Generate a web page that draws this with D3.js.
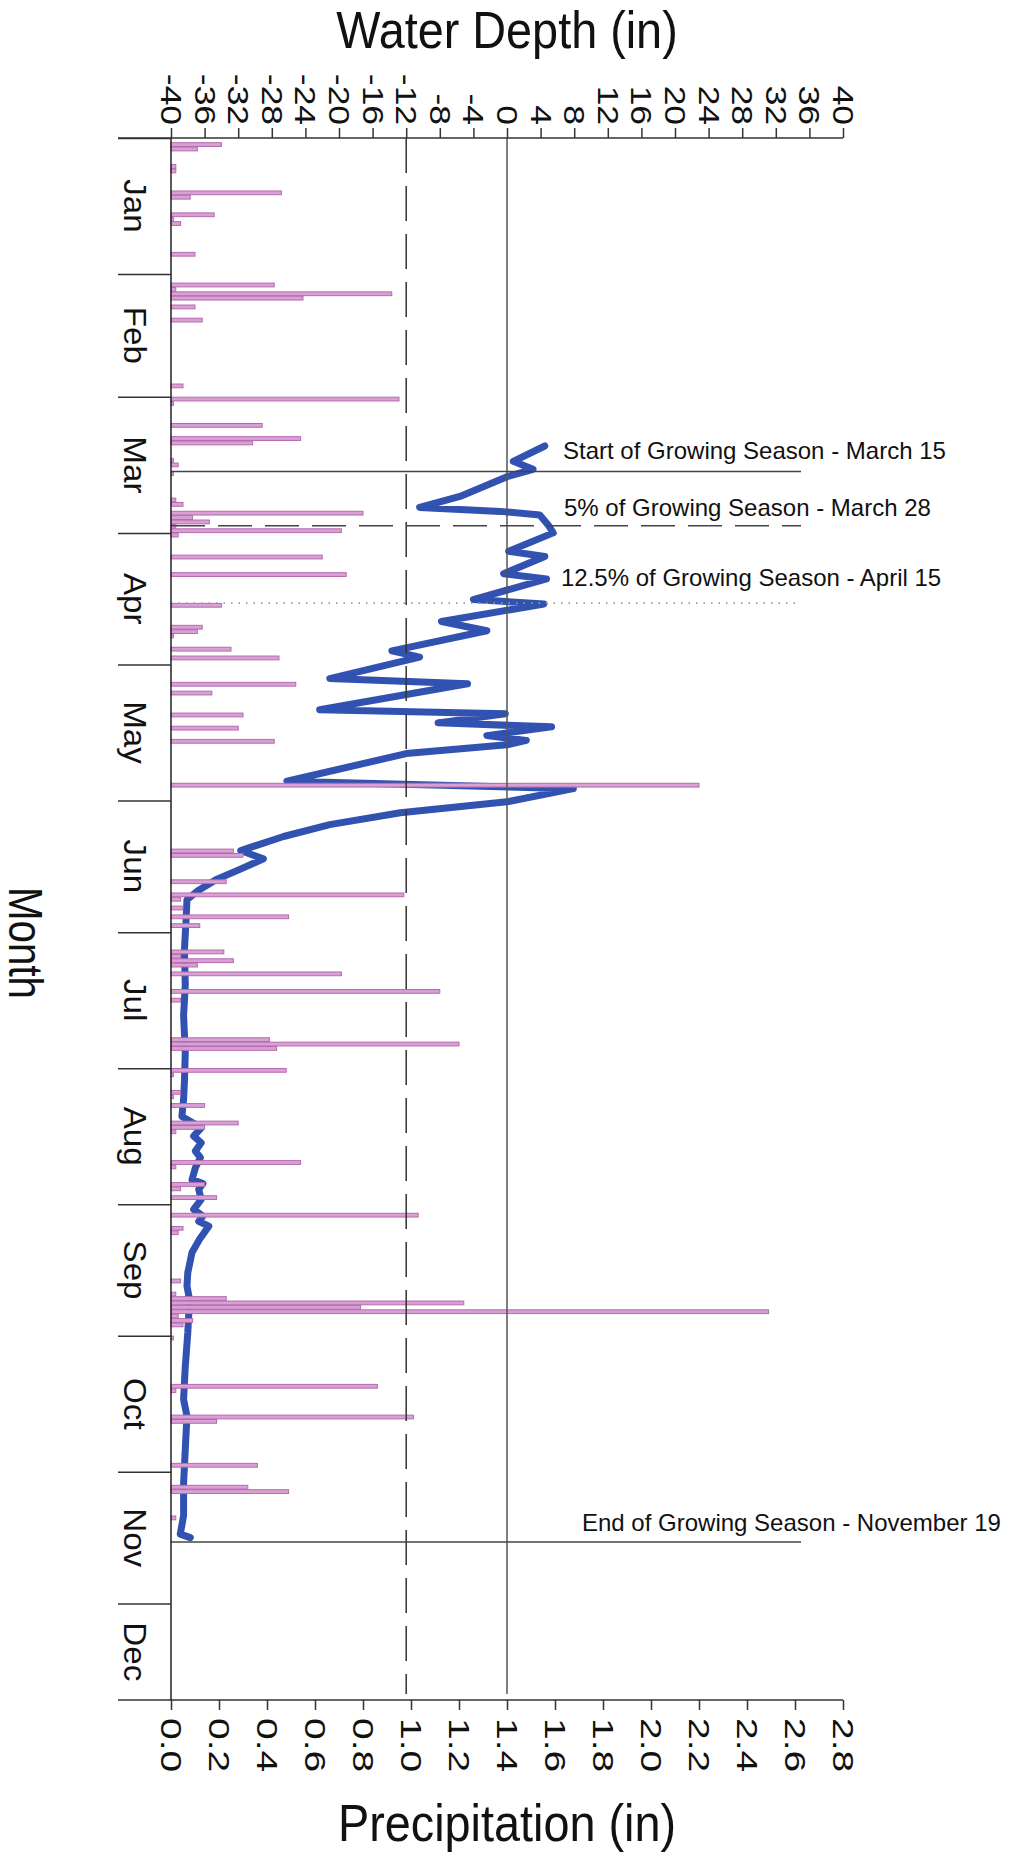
<!DOCTYPE html>
<html>
<head>
<meta charset="utf-8">
<script src="https://cdn.jsdelivr.net/npm/d3@7"></script>
<style>
  body { margin: 0; background: #fff; }
  svg { display: block; font-family: "Liberation Sans", Arial, sans-serif; }
</style>
</head>
<body>
<svg id="chart" width="1013" height="1870"></svg>
<script>
// months (day-of-year where each month starts)
const months = ['Jan', 'Feb', 'Mar', 'Apr', 'May', 'Jun', 'Jul', 'Aug', 'Sep', 'Oct', 'Nov', 'Dec'];
const monthStartDays = [0, 31, 59, 90, 120, 151, 181, 212, 243, 273, 304, 334];
const lastDay = 356; // the day axis stops a little before the end of December

const depthTicks = [-40, -36, -32, -28, -24, -20, -16, -12, -8, -4, 0, 4, 8, 12, 16, 20, 24, 28, 32, 36, 40];
const precipTicks = [0, 0.2, 0.4, 0.6, 0.8, 1.0, 1.2, 1.4, 1.6, 1.8, 2.0, 2.2, 2.4, 2.6, 2.8];

// daily precipitation (day of year, inches)
const precipDays = [1, 2, 6, 7, 12, 13, 17, 18, 19, 26, 33, 34, 35, 36, 38, 41, 56, 59, 60,
  65, 68, 69, 73, 74, 76, 82, 83, 85, 86, 87, 88, 89, 90, 95, 99, 106, 111, 112, 113, 116, 118,
  124, 126, 131, 134, 137, 147, 162, 163, 169, 172, 173, 175, 177, 179, 185, 186, 187, 188, 190,
  194, 196, 205, 206, 207, 212, 213, 217, 218, 220, 224, 225, 226, 233, 234, 238, 239, 241, 245,
  248, 249, 260, 263, 264, 265, 266, 267, 268, 269, 270, 273, 284, 285, 291, 292, 302, 307, 308, 314];
const precipInches = [0.21, 0.11, 0.02, 0.02, 0.46, 0.08, 0.18, 0.01, 0.04, 0.10, 0.43, 0.02, 0.92, 0.55, 0.10, 0.13, 0.05, 0.95, 0.01,
  0.38, 0.54, 0.34, 0.01, 0.03, 0.01, 0.02, 0.05, 0.80, 0.09, 0.16, 0.02, 0.71, 0.03, 0.63, 0.73, 0.21, 0.13, 0.11, 0.01, 0.25, 0.45,
  0.52, 0.17, 0.30, 0.28, 0.43, 2.20, 0.26, 0.30, 0.23, 0.97, 0.04, 0.05, 0.49, 0.12, 0.22, 0.04, 0.26, 0.11, 0.71,
  1.12, 0.04, 0.41, 1.20, 0.44, 0.48, 0.01, 0.04, 0.01, 0.14, 0.28, 0.14, 0.02, 0.54, 0.02, 0.14, 0.04, 0.19, 1.03,
  0.05, 0.03, 0.04, 0.02, 0.23, 1.22, 0.79, 2.49, 0.03, 0.09, 0.05, 0.01, 0.86, 0.02, 1.01, 0.19, 0.36, 0.32, 0.49, 0.02];

// water depth trace (day of year, inches)
const depthDays = [70.2, 73.7, 75.5, 77.2, 81.7, 84.2, 85.1, 85.9, 88.2, 90.0, 94.2, 95.4, 99.3, 100.5,
  105.2, 106.2, 110.2, 112.3, 116.9, 118.3, 123.2, 124.4, 130.3, 131.2, 133.3, 134.2, 136.2, 137.3,
  138.3, 140.3, 146.6, 148.3, 151.3, 153.8, 156.5, 159.2, 162.4, 164.3, 166.7, 169.0, 171.7, 173.6,
  178, 185, 193, 200, 208.5, 215, 219, 223, 225.6, 227.5, 229, 230.9, 232.4, 234.7, 237.4, 238.3,
  239.6, 241.9, 244.2, 245.7, 246.9, 248, 251, 254, 258.6, 261.6, 264.7, 272.3, 280, 287.5, 291.3,
  298.9, 306.5, 314, 318.2, 319];
const depthInches = [4.5, 0.75, 3.1, 0.0, -5.6, -10.4, -0.8, 3.9, 4.9, 5.5, 0.2, 4.5, -0.4, 4.7,
  -4.0, 4.4, -7.8, -2.4, -13.7, -10.4, -21.1, -4.7, -22.3, -0.2, -8.2, 5.3, -2.4, 2.3,
  0.0, -12.0, -26.2, 7.9, 0.0, -12.7, -21.1, -26.6, -31.7, -29.0, -31.8, -34.6, -36.9, -38.1,
  -38.2, -38.4, -38.3, -38.5, -38.3, -38.4, -38.5, -38.7, -36.4, -37.3, -36.4, -37.1, -36.5, -37.1, -37.5, -36.2,
  -36.7, -36.4, -37.3, -36.2, -36.7, -35.5, -36.6, -37.5, -38.0, -38.1, -37.8, -38.0, -38.3, -38.5, -38.1,
  -38.3, -38.5, -38.5, -38.9, -37.7];

// growing season markers
const seasonDays = [76, 88.4, 106, 320];
const seasonLabels = [
  'Start of Growing Season - March 15',
  '5% of Growing Season - March 28',
  '12.5% of Growing Season - April 15',
  'End of Growing Season - November 19'
];
const seasonStyles = ['solid', 'dashed', 'dotted', 'solid'];
const seasonLabelX = [563, 564, 561, 582];
const seasonLabelLift = [12, 10, 17, 11];
const seasonLineEnd = 35; // in water depth units

const svg = d3.select('#chart');

const plot = { left: 171, right: 843, top: 138, bottom: 1700, tickLeft: 118 };

const depthX = d3.scaleLinear().domain([-40, 40]).range([plot.left, plot.right]);
const precipX = d3.scaleLinear().domain([0, 2.8]).range([plot.left, plot.right]);
const dayY = d3.scaleLinear().domain([0, lastDay]).range([plot.top, plot.bottom]);

// Water depth line (under the bars)
const line = d3.line()
  .x(i => depthX(depthInches[i]))
  .y(i => dayY(depthDays[i]));

svg.append('path')
  .attr('d', line(d3.range(depthDays.length)))
  .attr('fill', 'none')
  .attr('stroke', '#3152b0')
  .attr('stroke-width', 7)
  .attr('stroke-linejoin', 'round')
  .attr('stroke-linecap', 'round');

// Precipitation bars
svg.append('g')
  .selectAll('rect')
  .data(precipDays)
  .enter()
  .append('rect')
  .attr('x', precipX(0))
  .attr('y', d => dayY(d) + 0.3)
  .attr('width', (d, i) => precipX(precipInches[i]) - precipX(0))
  .attr('height', d => dayY(d + 1) - dayY(d) - 0.6)
  .attr('fill', '#d9a0d5')
  .attr('stroke', '#b46cae')
  .attr('stroke-width', 1);

// Reference depth lines: 0 in and -12 in
svg.append('line')
  .attr('x1', depthX(0)).attr('x2', depthX(0))
  .attr('y1', plot.top).attr('y2', plot.bottom - 6)
  .attr('stroke', '#555').attr('stroke-width', 1.5);

svg.append('line')
  .attr('x1', depthX(-12)).attr('x2', depthX(-12))
  .attr('y1', plot.top).attr('y2', plot.bottom - 6)
  .attr('stroke', '#333').attr('stroke-width', 1.5)
  .attr('stroke-dasharray', '35,13');

// Growing season lines + labels
const dashFor = { solid: null, dashed: '34,13', dotted: '1.5,6' };
seasonDays.forEach((d, i) => {
  const y = dayY(d);
  svg.append('line')
    .attr('x1', plot.left).attr('x2', depthX(seasonLineEnd))
    .attr('y1', y).attr('y2', y)
    .attr('stroke', seasonStyles[i] === 'dotted' ? '#999' : '#444')
    .attr('stroke-width', seasonStyles[i] === 'dotted' ? 1.6 : 1.5)
    .attr('stroke-dasharray', dashFor[seasonStyles[i]]);

  svg.append('text')
    .attr('x', seasonLabelX[i])
    .attr('y', y - seasonLabelLift[i])
    .attr('font-size', 24)
    .attr('fill', '#111')
    .text(seasonLabels[i]);
});

// Top axis (water depth) - labels rotated, slightly stretched along the text
const topStretch = 1.18;
const topAxis = svg.append('g')
  .attr('transform', `translate(0,${plot.top})`)
  .call(d3.axisTop(depthX).tickValues(depthTicks).tickSize(10).tickSizeOuter(0).tickFormat(d => String(d)));
topAxis.select('.domain').remove();
topAxis.selectAll('line').attr('stroke', '#333').attr('stroke-width', 1.5);
topAxis.selectAll('text')
  .attr('transform', `rotate(90) scale(${topStretch},1)`)
  .attr('x', -13 / topStretch).attr('y', 0).attr('dy', '0.35em')
  .attr('text-anchor', 'end')
  .attr('font-size', 30)
  .attr('fill', '#111');

// Bottom axis (precipitation)
const bottomStretch = 1.3;
const bottomAxis = svg.append('g')
  .attr('transform', `translate(0,${plot.bottom})`)
  .call(d3.axisBottom(precipX).tickValues(precipTicks).tickSize(10).tickSizeOuter(0).tickFormat(d3.format('.1f')));
bottomAxis.select('.domain').remove();
bottomAxis.selectAll('line').attr('stroke', '#333').attr('stroke-width', 1.5);
bottomAxis.selectAll('text')
  .attr('transform', `rotate(90) scale(${bottomStretch},1)`)
  .attr('x', 18 / bottomStretch).attr('y', 0).attr('dy', '0.35em')
  .attr('text-anchor', 'start')
  .attr('font-size', 30)
  .attr('fill', '#111');

// Axis lines
svg.append('line')
  .attr('x1', plot.tickLeft).attr('x2', plot.right)
  .attr('y1', plot.top).attr('y2', plot.top)
  .attr('stroke', '#333').attr('stroke-width', 1.5);
svg.append('line')
  .attr('x1', plot.tickLeft).attr('x2', plot.right)
  .attr('y1', plot.bottom).attr('y2', plot.bottom)
  .attr('stroke', '#333').attr('stroke-width', 1.5);

// Month axis (left)
const monthAxis = svg.append('g')
  .attr('transform', `translate(${plot.left},0)`)
  .call(d3.axisLeft(dayY).tickValues(monthStartDays).tickSize(plot.left - plot.tickLeft).tickSizeOuter(0).tickFormat(''));
monthAxis.select('.domain')
  .attr('d', `M0,${plot.top}V${plot.bottom}`)
  .attr('stroke', '#222').attr('stroke-width', 1.5);
monthAxis.selectAll('line').attr('stroke', '#333').attr('stroke-width', 1.5);

svg.append('g')
  .selectAll('text')
  .data(months)
  .enter()
  .append('text')
  .attr('transform', (d, i) => {
    const end = i + 1 < monthStartDays.length ? monthStartDays[i + 1] : lastDay;
    return `translate(124,${dayY((monthStartDays[i] + end) / 2)}) rotate(90) scale(1.07,1)`;
  })
  .attr('text-anchor', 'middle')
  .attr('font-size', 31)
  .attr('fill', '#111')
  .text(d => d);

// Titles (the source lettering is tall and narrow)
svg.append('text')
  .attr('transform', `translate(${(plot.left + plot.right) / 2},48) scale(0.9,1)`)
  .attr('text-anchor', 'middle')
  .attr('font-size', 52)
  .attr('fill', '#111')
  .text('Water Depth (in)');

svg.append('text')
  .attr('transform', `translate(${(plot.left + plot.right) / 2},1841) scale(0.9,1)`)
  .attr('text-anchor', 'middle')
  .attr('font-size', 52)
  .attr('fill', '#111')
  .text('Precipitation (in)');

svg.append('text')
  .attr('transform', 'translate(9,943) rotate(90) scale(0.84,1)')
  .attr('text-anchor', 'middle')
  .attr('font-size', 48)
  .attr('fill', '#111')
  .text('Month');
</script>
</body>
</html>
